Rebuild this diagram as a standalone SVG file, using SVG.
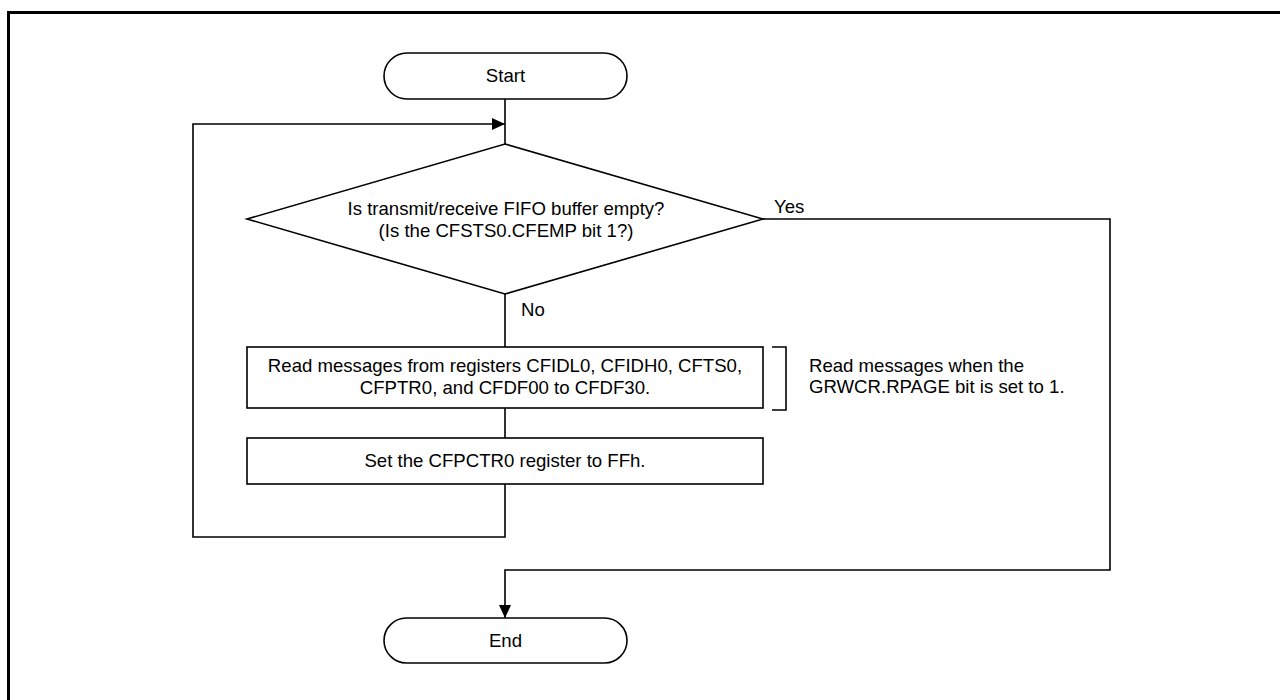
<svg xmlns="http://www.w3.org/2000/svg" width="1280" height="700" viewBox="0 0 1280 700">
<style>
.shape{fill:#fff;stroke:#000;stroke-width:1.6}
.line{fill:none;stroke:#000;stroke-width:1.6}
.t{font-family:"Liberation Sans",Arial,sans-serif;font-size:18.6px;fill:#000}
.c{text-anchor:middle}
</style>
<defs>
<marker id="arr" markerWidth="13" markerHeight="12" refX="13" refY="6" orient="auto" markerUnits="userSpaceOnUse">
<path d="M0,0 L13,6 L0,12 Z" fill="#000"/>
</marker>
</defs>
<rect width="1280" height="700" fill="#fff"/>
<path d="M8.5,700 V12.5 H1280" fill="none" stroke="#000" stroke-width="3"/>
<g id="connectors">
<path class="line" d="M505,99 V144"/>
<path class="line" d="M505,484 V537 H193 V124 H505" marker-end="url(#arr)"/>
<path class="line" d="M505,294 V347"/>
<path class="line" d="M505,408 V438"/>
<path class="line" d="M763,219 H1110 V570 H505 V618" marker-end="url(#arr)"/>
<text class="t" x="774" y="213">Yes</text>
<text class="t" x="521" y="316">No</text>
</g>
<g id="start">
<rect class="shape" x="384" y="53" width="243" height="46" rx="23" ry="23"/>
<text class="t c" x="505.5" y="82">Start</text>
</g>
<g id="decision">
<polygon class="shape" points="505,144 763,219 505,294 247,219"/>
<text class="t c" x="506" y="215">Is transmit/receive FIFO buffer empty?</text>
<text class="t c" x="506" y="237">(Is the CFSTS0.CFEMP bit 1?)</text>
</g>
<g id="read">
<rect class="shape" x="247" y="347" width="516" height="61"/>
<text class="t c" x="505" y="372">Read messages from registers CFIDL0, CFIDH0, CFTS0,</text>
<text class="t c" x="505" y="394">CFPTR0, and CFDF00 to CFDF30.</text>
</g>
<g id="note">
<path class="line" d="M772,347 H786 V410 H772"/>
<text class="t" x="809" y="372">Read messages when the</text>
<text class="t" x="809" y="393">GRWCR.RPAGE bit is set to 1.</text>
</g>
<g id="set">
<rect class="shape" x="247" y="438" width="516" height="46"/>
<text class="t c" x="505" y="467">Set the CFPCTR0 register to FFh.</text>
</g>
<g id="end">
<rect class="shape" x="384" y="618" width="243" height="45" rx="22.5" ry="22.5"/>
<text class="t c" x="505.5" y="647">End</text>
</g>
</svg>
